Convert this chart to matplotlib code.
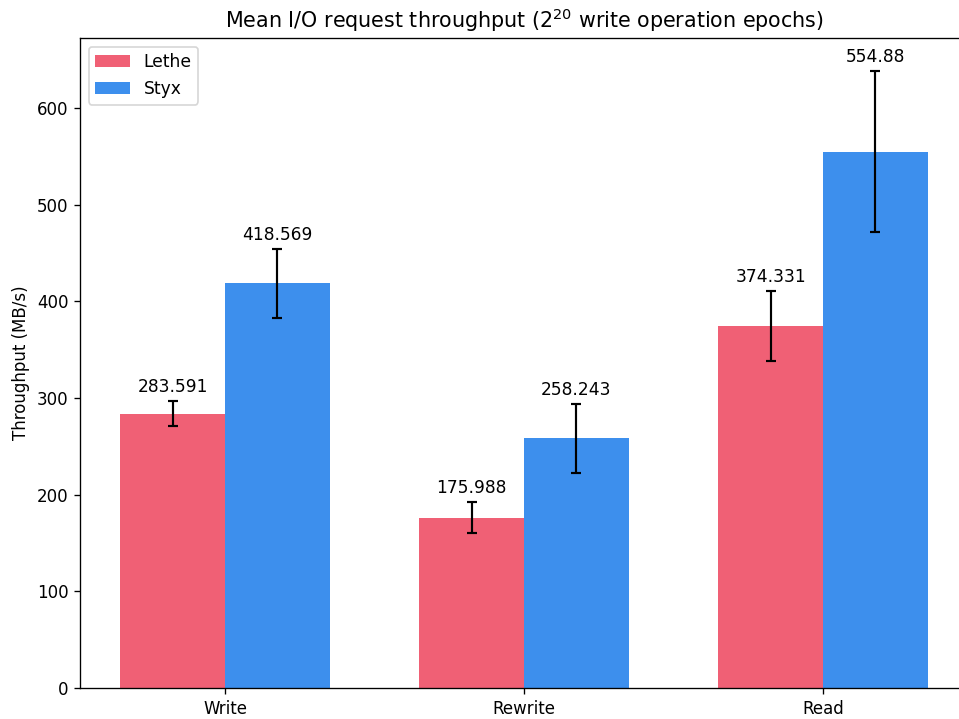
import matplotlib
matplotlib.use("Agg")
import matplotlib.pyplot as plt
import numpy as np

categories = ["Write", "Rewrite", "Read"]
lethe_vals = [283.591, 175.988, 374.331]
styx_vals = [418.569, 258.243, 554.88]
lethe_err = [13, 16, 36]
styx_err = [36, 36, 83]

lethe_color = "#f06075"
styx_color = "#3d8fed"

fig = plt.figure(figsize=(959/120, 719/120), dpi=120)
ax = fig.add_axes([80/959, 1-688/719, 888/959, 650/719])

x = np.arange(len(categories))
w = 0.35
ekw = dict(elinewidth=1.3, capthick=1.3, ecolor="black")
b1 = ax.bar(x - w/2, lethe_vals, w, yerr=lethe_err, capsize=3,
            error_kw=ekw, color=lethe_color, label="Lethe")
b2 = ax.bar(x + w/2, styx_vals, w, yerr=styx_err, capsize=3,
            error_kw=ekw, color=styx_color, label="Styx")
ax.bar_label(b1, padding=3, fontsize=10.2)
ax.bar_label(b2, padding=3, fontsize=10.2)

ax.set_xticks(x)
ax.set_xticklabels(categories)
ax.set_ylabel("Throughput (MB/s)")
ax.set_title("Mean I/O request throughput ($2^{20}$ write operation epochs)", fontsize=12.4)
ax.set_ylim(0, 672.5)
ax.set_xlim(-0.485, 2.485)
ax.legend(loc="upper left", fontsize=10.3)

fig.savefig("out.png", dpi=120)
